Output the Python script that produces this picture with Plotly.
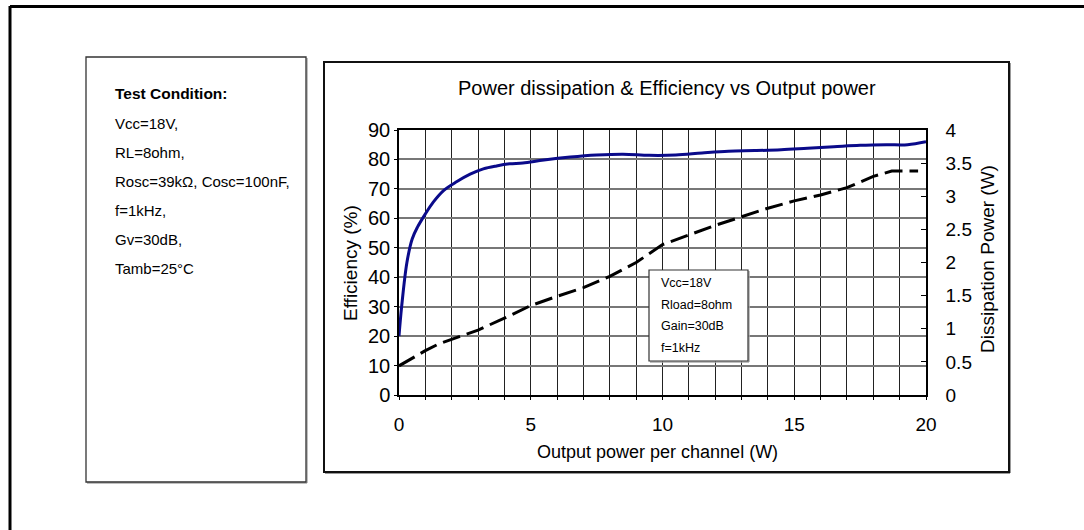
import plotly.graph_objects as go

# ---------------- data ----------------
eff_x = [0, 0.1, 0.3, 0.5, 0.7, 1.0, 1.3, 1.7, 2.2, 2.7, 3.2, 3.7, 4.2, 4.7, 5.5,
         6.5, 7.5, 8.5, 9.5, 10.5, 11.5, 12.5, 13.5, 14.5, 15.5, 16.5, 17.5, 18.5, 19.3, 20]
eff_y = [20, 30, 45, 53, 57, 61.5, 65.5, 69.5, 72.5, 75, 76.8, 77.8, 78.5, 78.8, 79.8,
         80.8, 81.5, 81.8, 81.4, 81.5, 82.2, 82.8, 83, 83.3, 83.8, 84.3, 84.8, 85, 85, 86]

pd_x = [0, 0.5, 1, 1.5, 2, 3, 4, 5, 6, 7, 8, 9, 10, 11, 12, 13, 14, 15, 16, 17, 18, 18.7, 19.7]
pd_y = [0.44, 0.56, 0.67, 0.77, 0.84, 0.98, 1.16, 1.35, 1.49, 1.62, 1.79, 2.0, 2.27, 2.42,
        2.56, 2.69, 2.82, 2.93, 3.02, 3.13, 3.30, 3.38, 3.38]

x_ticks = [0, 5, 10, 15, 20]
y_ticks = [0, 10, 20, 30, 40, 50, 60, 70, 80, 90]
y2_ticks = [0, 0.5, 1, 1.5, 2, 2.5, 3, 3.5, 4]
y2_labels = ["0", "0.5", "1", "1.5", "2", "2.5", "3", "3.5", "4"]

title_text = "Power dissipation & Efficiency vs Output power"
x_title = "Output power per channel (W)"
y_title = "Efficiency (%)"
y2_title = "Dissipation Power (W)"
cond_title = "Test Condition:"
cond_lines = ["Vcc=18V,", "RL=8ohm,", "Rosc=39kΩ, Cosc=100nF,", "f=1kHz,", "Gv=30dB,", "Tamb=25°C"]
box_lines = ["Vcc=18V", "Rload=8ohm", "Gain=30dB", "f=1kHz"]

# ---------------- layout geometry (page pixels; body margin removed by post_script) ----------------
W, H = 1084, 530
L, R, T, B = 399, 926, 130, 395          # plot area in page pixels
FONT = "Liberation Sans, Arial, sans-serif"


def px(X):
    return (X - L) / (R - L)


def py(Y):
    return (B - Y) / (B - T)


fig = go.Figure()
fig.add_trace(go.Scatter(x=eff_x, y=eff_y, mode="lines", line=dict(color="#0a0a8a", width=3),
                         line_shape="spline", showlegend=False, hoverinfo="skip"))
fig.add_trace(go.Scatter(x=pd_x, y=pd_y, mode="lines", yaxis="y2",
                         line=dict(color="#000000", width=3, dash="18px,7px"),
                         showlegend=False, hoverinfo="skip"))

shapes = []


def rect(x0, y0, x1, y1, color="#222", width=1.5, fill=None, layer="above"):
    shapes.append(dict(type="rect", xref="paper", yref="paper", x0=px(x0), x1=px(x1),
                       y0=py(y1), y1=py(y0), line=dict(color=color, width=width),
                       fillcolor=fill if fill else "rgba(0,0,0,0)", layer=layer))


def line(x0, y0, x1, y1, color="#000", width=3):
    shapes.append(dict(type="line", xref="paper", yref="paper", x0=px(x0), x1=px(x1),
                       y0=py(y0), y1=py(y1), line=dict(color=color, width=width)))


# outer frame
line(10, 6.5, 1090, 6.5, width=3)
line(10, 6, 10, 540, width=3)
# left condition box (shadow then box)
line(307, 58, 307, 483, color="#aaa", width=1.5)
line(87, 483, 307, 483, color="#aaa", width=1.5)
rect(86, 57, 306, 482, color="#333", width=1.3)
# inner plot frame
line(1010, 63, 1010, 473, color="#999", width=2)
line(325, 473, 1010, 473, color="#999", width=2)
rect(324, 62, 1009, 472, color="#111", width=2)
# inner legend box
line(749, 271, 749, 362, color="#aaa", width=1.5)
line(650, 362, 749, 362, color="#aaa", width=1.5)
rect(649, 270, 748, 361, color="#333", width=1.2, fill="#ffffff")

ann = []


def text(X, Y, s, size=14, anchor="left", angle=0, bold=False):
    ann.append(dict(xref="paper", yref="paper", x=px(X), y=py(Y), text=("<b>%s</b>" % s) if bold else s,
                    showarrow=False, xanchor=anchor, yanchor="middle", textangle=angle,
                    font=dict(family=FONT, size=size, color="#000")))


text(667, 88, title_text, size=20, anchor="center")
text(657, 452, x_title, size=18, anchor="center")
text(350, 263, y_title, size=19, anchor="center", angle=-90)
text(987, 259, y2_title, size=19, anchor="center", angle=-90)

text(113, 93, cond_title, size=15.5, bold=True)
for i, s in enumerate(cond_lines):
    text(113, 123 + i * 29, s, size=15)
for i, s in enumerate(box_lines):
    text(659, 283 + i * 21.7, s, size=12.5)

fig.update_layout(
    width=W, height=H,
    margin=dict(l=L, r=W - R, t=T, b=H - B, pad=0),
    paper_bgcolor="#ffffff", plot_bgcolor="#ffffff",
    font=dict(family=FONT, size=17, color="#000"),
    shapes=shapes, annotations=ann,
    xaxis=dict(range=[0, 20], tickvals=x_ticks, ticktext=[str(v) for v in x_ticks],
               showgrid=True, gridcolor="#222", gridwidth=1,
               minor=dict(dtick=1, showgrid=True, gridcolor="#222", gridwidth=1,
                          ticks="outside", ticklen=3, tickcolor="#000"),
               ticks="outside", ticklen=3, tickcolor="#000",
               showline=True, linecolor="#000", linewidth=1.5, mirror=True,
               zeroline=False, ticklabelstandoff=8,
               tickfont=dict(family=FONT, size=19)),
    yaxis=dict(range=[0, 90], tickvals=y_ticks, showgrid=True, gridcolor="#777", gridwidth=1.5,
               ticks="outside", ticklen=3, tickcolor="#000",
               showline=True, linecolor="#000", linewidth=1.5, zeroline=False,
               tickfont=dict(family=FONT, size=20)),
    yaxis2=dict(range=[0, 4], tickvals=y2_ticks, ticktext=y2_labels, overlaying="y", side="right",
                showgrid=False, ticks="inside", ticklen=5, tickcolor="#000",
                showline=True, linecolor="#000", linewidth=1.5, zeroline=False,
                ticklabelstandoff=14, tickfont=dict(family=FONT, size=19)),
)

fig.write_html("out.html", config={"displayModeBar": False},
               post_script="document.body.style.margin='0';")
